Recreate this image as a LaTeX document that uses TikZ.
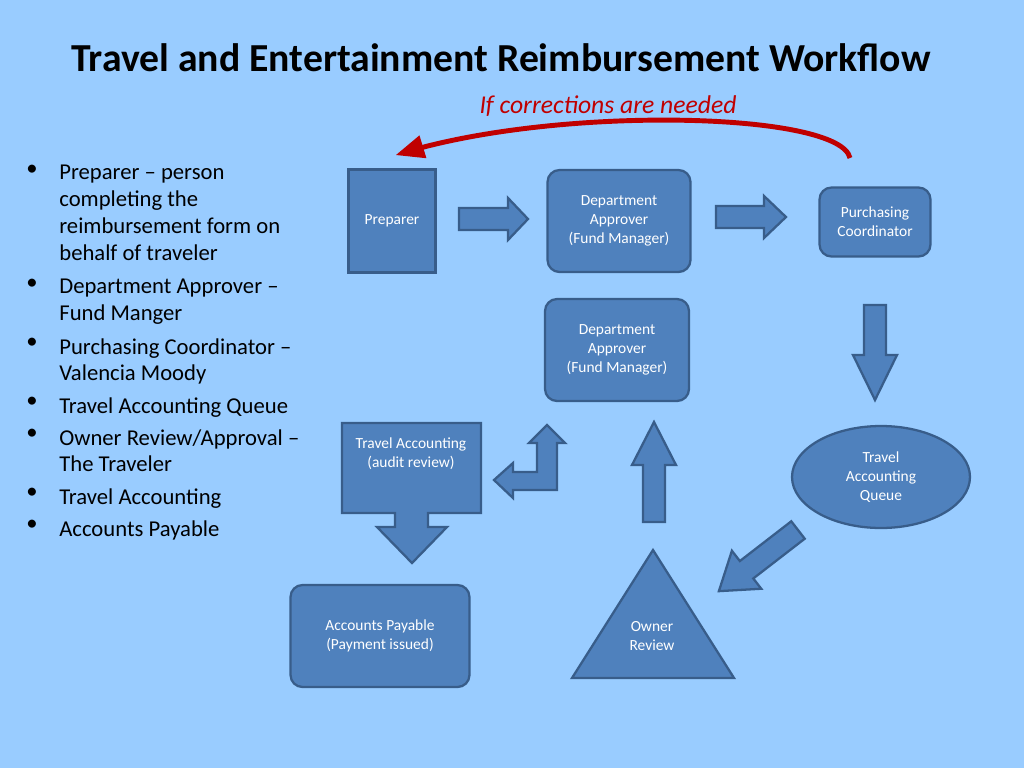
\documentclass[tikz,border=0pt]{standalone}
\usepackage{fontspec}
\setmainfont{Carlito}
\usetikzlibrary{arrows,shapes}
\definecolor{bg}{RGB}{153,204,255}
\definecolor{boxfill}{RGB}{79,129,189}
\definecolor{boxline}{RGB}{56,93,138}
\definecolor{fixred}{RGB}{192,0,0}
\newcommand{\blockarrow}[4]{%
  \draw[blockshape] (0,-#3) -- (#1-#2,-#3) -- (#1-#2,-#4) -- (#1,0) -- (#1-#2,#4) -- (#1-#2,#3) -- (0,#3) -- cycle;}
\begin{document}
\begin{tikzpicture}[x=0.02cm,y=-0.02cm,>=triangle 45]
  \tikzstyle{blockshape}=[fill=boxfill,draw=boxline,line width=1.3pt]
  \tikzstyle{box}=[blockshape,text=white,font=\fontsize{8.8}{11}\selectfont,align=center,inner sep=0pt]
  \tikzstyle{rbox}=[box,rounded corners=0.24cm]
  \tikzstyle{item}=[anchor=north west,align=left,inner sep=0pt,font=\fontsize{12.9}{15.3}\selectfont]
  \fill[bg] (0,0) rectangle (1024,768);
  \node (title) at (501,58) {\fontsize{22.6}{26}\selectfont\bfseries Travel and Entertainment Reimbursement Workflow};
  \node[text=fixred] (note) at (608,106) {\fontsize{14.6}{17}\selectfont\itshape If corrections are needed};
  % bullet list
  \foreach \y/\t in {177/{Preparer – person\\completing the\\reimbursement form on\\behalf of traveler},
                     291/{Department Approver –\\Fund Manger},
                     350/{Purchasing Coordinator –\\Valencia Moody},
                     409/{Travel Accounting Queue},
                     441/{Owner Review/Approval –\\The Traveler},
                     500/{Travel Accounting},
                     532/{Accounts Payable}}{
    \node[item] at (59,\y-12) {\t};
    \node[item] at (26,\y-12) {\textbullet};
  }
  % boxes
  \node[box,minimum width=1.74cm,minimum height=2.06cm] (preparer) at (392,221) {Preparer};
  \node[rbox,minimum width=2.86cm,minimum height=2.04cm] (deptA) at (619,221) {Department\\Approver\\(Fund Manager)};
  \node[rbox,minimum width=2.22cm,minimum height=1.38cm] (purch) at (875,222) {Purchasing\\Coordinator};
  \node[box,ellipse,minimum width=3.56cm,minimum height=2.04cm] (queue) at (881,477) {Travel\\Accounting\\Queue};
  \node[rbox,minimum width=2.88cm,minimum height=2.04cm] (deptB) at (617,350) {Department\\Approver\\(Fund Manager)};
  \node[rbox,minimum width=3.58cm,minimum height=2.04cm] (payable) at (380,636) {Accounts Payable\\(Payment issued)};
  % owner review triangle
  \draw[blockshape] (653,550) -- (734,678) -- (572,678) -- cycle;
  \node[text=white,font=\fontsize{8.8}{11}\selectfont,align=center] (owner) at (652,636) {Owner\\Review};
  % audit callout
  \draw[blockshape] (342,423) -- (481,423) -- (481,513) -- (428,513) -- (428,527) -- (447,527)
    -- (412,563) -- (377,527) -- (395,527) -- (395,513) -- (342,513) -- cycle;
  \node[text=white,font=\fontsize{8.8}{11}\selectfont,align=center] (audit) at (411,454) {Travel Accounting\\(audit review)};
  % bent arrow
  \draw[blockshape] (494,480) -- (513,463) -- (513,472) -- (537,472) -- (537,443) -- (529,443)
    -- (547,425) -- (565,443) -- (557,443) -- (557,490) -- (513,490) -- (513,498) -- cycle;
  % block arrows
  \begin{scope}[shift={(459,219)}] \blockarrow{69}{20}{11}{21} \end{scope}
  \begin{scope}[shift={(716,217)}] \blockarrow{70}{22}{11}{21} \end{scope}
  \begin{scope}[shift={(875,305)},rotate=-90] \blockarrow{95}{45}{11}{22} \end{scope}
  \begin{scope}[shift={(798,530)},rotate=217.7] \blockarrow{100}{35}{11}{24} \end{scope}
  \begin{scope}[shift={(654,522)},rotate=90] \blockarrow{100}{43}{11}{22} \end{scope}
  % corrections arrow
  \coordinate (back) at (850,158);
  \coordinate (front) at (396,155);
  \draw[->,fixred,line width=2.8pt] (back) .. controls (840,112) and (560,105) .. (front);
\end{tikzpicture}
\end{document}
